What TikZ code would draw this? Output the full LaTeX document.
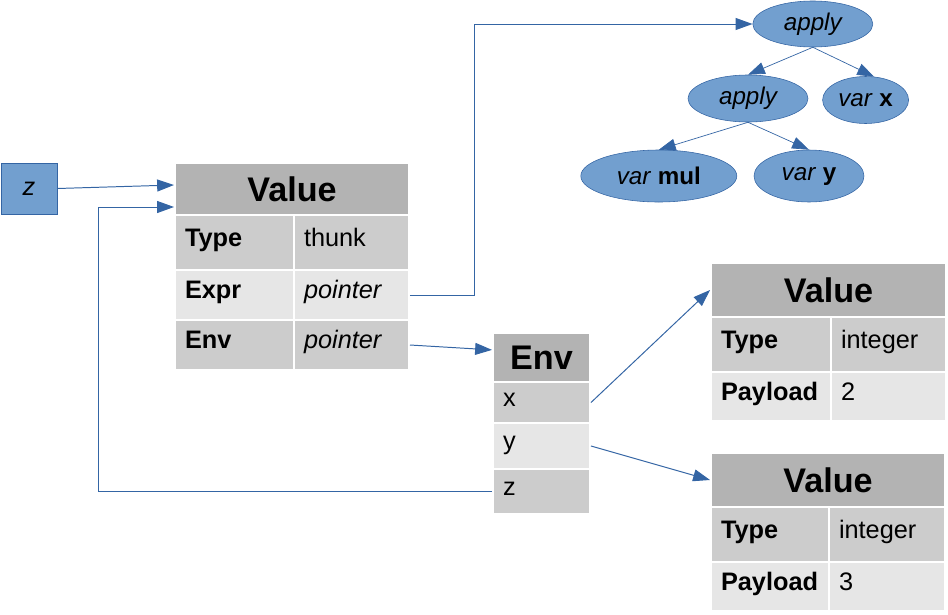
\documentclass[tikz,border=0pt]{standalone}
\usepackage{fontspec}
\setmainfont{Liberation Sans}
\usepackage{xcolor}
\usepackage{tikz}
\usetikzlibrary{arrows.meta,positioning,calc,shapes.geometric}
\definecolor{tblue}{RGB}{114,159,207}
\definecolor{tline}{RGB}{52,101,164}
\definecolor{hgray}{RGB}{179,179,179}
\definecolor{cgray}{RGB}{204,204,204}
\definecolor{lgray}{RGB}{230,230,230}
\tikzset{
  hdr/.style  ={rectangle, fill=hgray, draw=white, line width=1.4pt, inner sep=0pt,
                font=\fontsize{24.3}{29}\selectfont\bfseries},
  key/.style  ={rectangle, fill=cgray, draw=white, line width=1.4pt, inner xsep=0.25cm,
                inner ysep=0pt, align=left, text height=13pt, text depth=8pt,
                font=\fontsize{18}{21}\selectfont\bfseries},
  val/.style  ={key, font=\fontsize{18}{21}\selectfont},
  lt/.style   ={fill=lgray},
  cw/.style   ={minimum width=#1cm, text width=#1cm-0.5cm},
  tnode/.style={ellipse, fill=tblue, draw=tline, inner sep=0pt,
                font=\fontsize{17.2}{20}\selectfont},
  ar/.style   ={-{Triangle[length=12pt,width=8.5pt]}, draw=tline, line width=0.7pt},
  art/.style  ={ar, line width=0.5pt}
}

\begin{document}
\begin{tikzpicture}
\useasboundingbox (0,0) rectangle (23.7,-15.35);

\node[rectangle, fill=tblue, draw=tline, minimum width=1.4cm, minimum height=1.275cm,
  font=\fontsize{18}{21}\selectfont\itshape] (zvar) at (0.725,-4.7125) {z};

\node[hdr, minimum width=5.85cm, minimum height=1.3cm] (v1hdr) at (7.3,-4.725) {Value};
\node[key, cw=2.975, minimum height=1.375cm] (v1type) at (5.8625,-6.0625) {Type};
\node[val, cw=2.875, minimum height=1.375cm] (v1typev) at (8.7875,-6.0625) {thunk};
\node[key, lt, cw=2.975, minimum height=1.25cm] (v1expr) at (5.8625,-7.375) {Expr};
\node[val, lt, cw=2.875, minimum height=1.25cm] (v1exprv) at (8.7875,-7.375) {\itshape pointer};
\node[key, cw=2.975, minimum height=1.25cm] (v1env) at (5.8625,-8.625) {Env};
\node[val, cw=2.875, minimum height=1.25cm] (v1envv) at (8.7875,-8.625) {\itshape pointer};

\node[hdr, minimum width=2.425cm, minimum height=1.225cm] (envhdr) at (13.5375,-8.9375) {Env};
\node[val, cw=2.425, minimum height=1.025cm] (envx) at (13.5375,-10.0625) {x};
\node[val, lt, cw=2.425, minimum height=1.15cm] (envy) at (13.5375,-11.15) {y};
\node[val, cw=2.425, minimum height=1.125cm] (envz) at (13.5375,-12.2875) {z};

\node[hdr, minimum width=5.875cm, minimum height=1.35cm] (v2hdr) at (20.7125,-7.25) {Value};
\node[key, cw=3.0, minimum height=1.375cm] (v2type) at (19.275,-8.6125) {Type};
\node[val, cw=2.875, minimum height=1.375cm] (v2typev) at (22.2125,-8.6125) {integer};
\node[key, lt, cw=3.0, minimum height=1.225cm] (v2pay) at (19.275,-9.9125) {Payload};
\node[val, lt, cw=2.875, minimum height=1.225cm] (v2payv) at (22.2125,-9.9125) {2};

\node[hdr, minimum width=5.85cm, minimum height=1.35cm] (v3hdr) at (20.7,-12.0) {Value};
\node[key, cw=2.95, minimum height=1.375cm] (v3type) at (19.25,-13.3625) {Type};
\node[val, cw=2.9, minimum height=1.375cm] (v3typev) at (22.175,-13.3625) {integer};
\node[key, lt, cw=2.95, minimum height=1.225cm] (v3pay) at (19.25,-14.6625) {Payload};
\node[val, lt, cw=2.9, minimum height=1.225cm] (v3payv) at (22.175,-14.6625) {3};

\node[tnode, minimum width=3.0cm, minimum height=1.15cm] (ap1) at (20.32,-0.6) {\itshape apply};
\node[tnode, minimum width=3.0cm, minimum height=1.175cm] (ap2) at (18.7,-2.4625) {\itshape apply};
\node[tnode, minimum width=2.15cm, minimum height=1.175cm] (vx) at (21.64,-2.5) {\textit{var} \textbf{x}};
\node[tnode, minimum width=3.9cm, minimum height=1.3cm] (vmul) at (16.47,-4.4) {\textit{var} \textbf{mul}};
\node[tnode, minimum width=2.75cm, minimum height=1.3cm] (vy) at (20.225,-4.4) {\textit{var} \textbf{y}};

\coordinate (zret) at (2.45,-5.175);
\coordinate (xret) at (11.85,-0.6);

\draw[ar] (zvar.east) -- ([yshift=0.1cm]v1hdr.west);
\draw[ar] (envz.west) -| (zret) -- (v1hdr.west |- zret);
\draw[ar] (v1exprv.east) -| (xret) -- (ap1.west);
\draw[ar] (v1envv.east) -- ([yshift=0.19cm]envhdr.west);
\draw[ar] (envx.east) -- (v2hdr.west);
\draw[ar] (envy.east) -- (v3hdr.west);

\draw[art] (ap1.south) -- (ap2.north);
\draw[art] (ap1.south) -- (vx.70);
\draw[art] (ap2.south) -- (vmul.north);
\draw[art] (ap2.south) -- (vy.north);
\end{tikzpicture}
\end{document}
